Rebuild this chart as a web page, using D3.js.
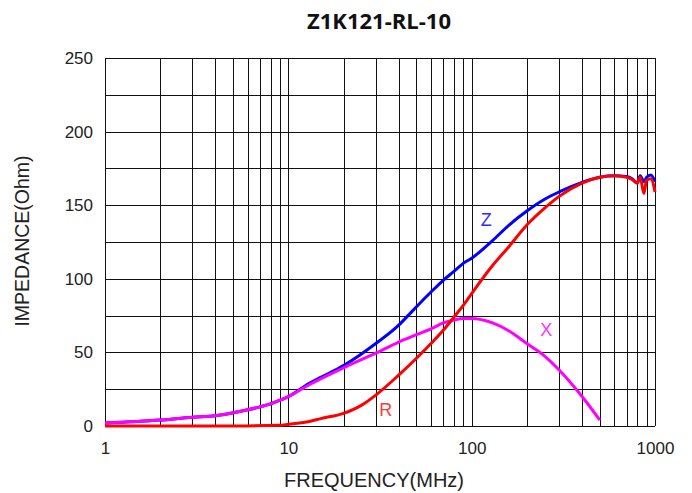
<!DOCTYPE html>
<html>
<head>
<meta charset="utf-8">
<script src="https://cdn.jsdelivr.net/npm/d3@7"></script>
<style>
  html, body { margin: 0; padding: 0; background: #fff; }
  svg { display: block; }
</style>
</head>
<body>
<div id="chart"></div>
<script>
// ---- data ----
const title = "Z1K121-RL-10";
const xTickValues = [1, 10, 100, 1000];
const yTickValues = [0, 50, 100, 150, 200, 250];

const zFreq = [1, 2, 3, 4, 5, 6, 7, 8, 9, 10, 13, 15, 20, 30, 40, 45, 50, 60, 70, 80, 90, 100, 130, 160, 200, 250, 300, 400, 500, 600, 700, 750, 800, 830, 870, 900, 950, 1000];
const zValues = [2, 4, 6, 7, 9, 11, 13, 15, 17.5, 20, 29, 33, 41, 56, 68.5, 75, 81, 91, 99, 105, 110.5, 114, 126, 136.5, 146, 154, 159, 165.5, 169, 170, 169.5, 168, 165, 170, 166, 169, 170.5, 166];

const rFreq = [1, 5, 9, 10, 13, 15, 20, 25, 30, 40, 50, 60, 70, 80, 90, 100, 130, 160, 200, 250, 300, 400, 500, 600, 700, 750, 800, 830, 870, 900, 950, 1000];
const rValues = [0, 0, 0.5, 1.2, 3, 5, 8.6, 14, 21, 34.6, 46, 56, 65, 74, 82, 90, 109, 122, 136.5, 148, 156, 165, 169, 170, 169, 167.5, 165, 169, 158, 167, 168, 159];

const xFreq = [1, 2, 3, 4, 5, 6, 7, 8, 9, 10, 13, 15, 20, 30, 40, 50, 60, 70, 80, 90, 100, 130, 160, 200, 250, 300, 400, 500];
const xValues = [2, 4, 6, 7, 9, 11, 13, 15, 17.5, 20, 28, 32, 39.5, 49.5, 57, 62, 66, 70, 72, 73, 73, 70, 64.5, 56, 47.5, 38, 20, 4];

// ---- layout ----
const W = 692, H = 493;
const L = 105, R = 655, T = 58, B = 426;

const svg = d3.select("#chart").append("svg")
  .attr("width", W).attr("height", H);

const x = d3.scaleLog().domain([1, 1000]).range([L, R]);
const y = d3.scaleLinear().domain([0, 250]).range([B, T]);

// grid: vertical lines at every 1..9 per decade
const minor = [];
for (let d = 1; d <= 100; d *= 10) for (let k = 1; k <= 9; k++) minor.push(d * k);
minor.push(1000);
const grid = svg.append("g").attr("stroke", "#111").attr("stroke-width", 1.2).attr("shape-rendering", "crispEdges");
grid.selectAll("line.v").data(minor).join("line")
  .attr("x1", d => Math.round(x(d)) + 0.5).attr("x2", d => Math.round(x(d)) + 0.5)
  .attr("y1", T).attr("y2", B);
grid.selectAll("line.h").data(d3.range(0, 251, 25)).join("line")
  .attr("x1", L).attr("x2", R)
  .attr("y1", d => Math.round(y(d)) + 0.5).attr("y2", d => Math.round(y(d)) + 0.5);

// axes (labels only)
const xAxis = d3.axisBottom(x).tickValues(xTickValues).tickFormat(d3.format("d")).tickSize(0).tickPadding(16);
const gx = svg.append("g").attr("transform", `translate(0,${B})`).call(xAxis);
gx.select(".domain").remove();
gx.selectAll("text").attr("font-family", "Liberation Sans, Arial, sans-serif").attr("font-size", 17).attr("fill", "#222");

const yAxis = d3.axisLeft(y).tickValues(yTickValues).tickSize(0).tickPadding(12);
const gy = svg.append("g").attr("transform", `translate(${L},0)`).call(yAxis);
gy.select(".domain").remove();
gy.selectAll("text").attr("font-family", "Liberation Sans, Arial, sans-serif").attr("font-size", 17).attr("fill", "#222");

// series
const line = d3.line().x(d => x(d[0])).y(d => y(d[1])).curve(d3.curveMonotoneX);
const series = [
  { f: zFreq, v: zValues, color: "#0000ff" },
  { f: xFreq, v: xValues, color: "#ff00ff" },
  { f: rFreq, v: rValues, color: "#ff0000" }
];
series.forEach(s => {
  svg.append("path")
    .datum(s.f.map((f, i) => [f, s.v[i]]))
    .attr("d", line)
    .attr("fill", "none")
    .attr("stroke", s.color)
    .attr("stroke-width", 3)
    .attr("stroke-linejoin", "round");
});

// curve labels
const labels = [
  { t: "Z", f: 120, v: 140, c: "#2b2bff" },
  { t: "X", f: 255, v: 65, c: "#ff33ff" },
  { t: "R", f: 34, v: 11, c: "#ff3b3b" }
];
svg.selectAll("text.lbl").data(labels).join("text")
  .attr("class", "lbl")
  .attr("x", d => x(d.f)).attr("y", d => y(d.v))
  .attr("text-anchor", "middle").attr("dominant-baseline", "central")
  .attr("font-family", "Liberation Sans, Arial, sans-serif").attr("font-size", 18)
  .attr("fill", d => d.c).text(d => d.t);

// titles
svg.append("text")
  .attr("x", 379).attr("y", 29)
  .attr("text-anchor", "middle")
  .attr("font-family", "Open Sans, Liberation Sans, sans-serif")
  .attr("font-weight", "bold").attr("font-size", 22)
  .attr("fill", "#111")
  .text(title);

svg.append("text")
  .attr("x", 374).attr("y", 487)
  .attr("text-anchor", "middle")
  .attr("font-family", "Liberation Sans, Arial, sans-serif").attr("font-size", 20)
  .attr("fill", "#222")
  .text("FREQUENCY(MHz)");

svg.append("text")
  .attr("transform", `translate(29,241) rotate(-90)`)
  .attr("text-anchor", "middle")
  .attr("font-family", "Liberation Sans, Arial, sans-serif").attr("font-size", 19.5)
  .attr("fill", "#222")
  .text("IMPEDANCE(Ohm)");
</script>
</body>
</html>
